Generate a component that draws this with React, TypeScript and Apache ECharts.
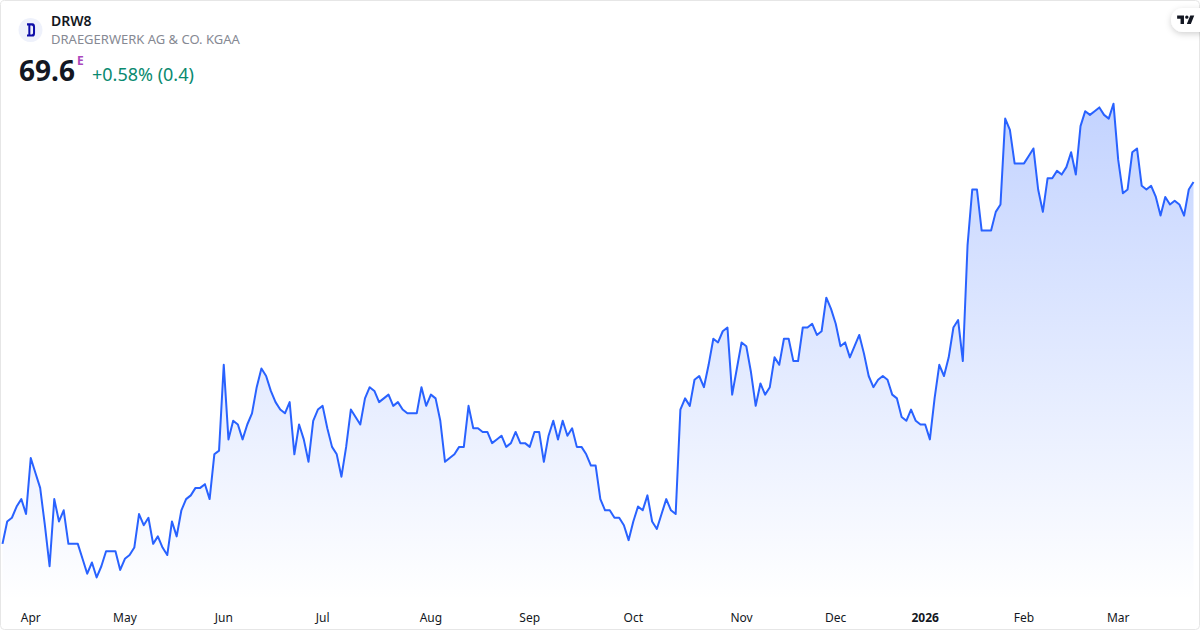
import React, { useEffect, useRef } from "react";
import * as echarts from "echarts";

const FONT = '"Noto Sans", sans-serif';

const prices: number[] = [
  50.2, 51.4, 51.6, 52.2, 52.6, 51.8, 54.8, 54.0, 53.2, 51.2, 49.0, 52.6, 51.4, 52.0, 50.2, 50.2,
  50.2, 49.4, 48.6, 49.2, 48.4, 49.0, 49.8, 49.8, 49.8, 48.8, 49.4, 49.6, 50.0, 51.8, 51.2, 51.6,
  50.2, 50.6, 50.0, 49.6, 51.4, 50.6, 52.0, 52.6, 52.8, 53.2, 53.2, 53.4, 52.6, 55.0, 55.2, 59.8,
  55.8, 56.8, 56.6, 55.8, 56.6, 57.2, 58.6, 59.6, 59.2, 58.4, 57.8, 57.4, 57.2, 57.8, 55.0, 56.6,
  55.8, 54.6, 56.8, 57.4, 57.6, 56.4, 55.4, 55.0, 53.8, 55.4, 57.4, 57.0, 56.6, 58.0, 58.6, 58.4,
  57.8, 58.0, 58.2, 57.6, 57.8, 57.4, 57.2, 57.2, 57.2, 58.6, 57.6, 58.2, 58.0, 56.8, 54.6, 54.8,
  55.0, 55.4, 55.4, 57.6, 56.4, 56.4, 56.2, 56.2, 55.6, 55.8, 56.0, 55.4, 55.6, 56.2, 55.6, 55.6,
  55.4, 56.2, 56.2, 54.6, 56.0, 56.8, 55.8, 56.8, 56.0, 56.4, 55.4, 55.4, 55.0, 54.4, 54.4, 52.6,
  52.0, 52.0, 51.6, 51.6, 51.2, 50.4, 51.4, 52.2, 52.0, 52.8, 51.4, 51.0, 51.8, 52.6, 52.0, 51.8,
  57.4, 58.0, 57.6, 59.0, 59.2, 58.6, 59.8, 61.2, 61.0, 61.6, 61.8, 58.2, 59.6, 61.0, 60.8, 59.4,
  57.6, 58.8, 58.2, 58.6, 60.2, 59.8, 61.2, 61.2, 60.0, 60.0, 61.8, 61.8, 62.0, 61.4, 61.6, 63.4,
  62.8, 62.0, 60.8, 61.0, 60.2, 60.8, 61.4, 60.4, 59.2, 58.6, 59.0, 59.2, 59.0, 58.2, 58.0, 57.0,
  56.8, 57.4, 56.8, 56.6, 56.6, 55.8, 58.0, 59.8, 59.2, 60.2, 61.8, 62.2, 60.0, 66.2, 69.2, 69.2,
  67.0, 67.0, 67.0, 68.0, 68.4, 73.0, 72.4, 70.6, 70.6, 70.6, 71.0, 71.4, 69.2, 68.0, 69.8, 69.8,
  70.2, 70.0, 70.4, 71.2, 70.0, 72.6, 73.4, 73.2, 73.4, 73.6, 73.2, 73.0, 73.8, 70.8, 69.0, 69.2,
  71.2, 71.4, 69.4, 69.2, 69.4, 68.8, 67.8, 68.8, 68.4, 68.6, 68.4, 67.8, 69.2, 69.6,
];

const monthLabels = ["Apr", "May", "Jun", "Jul", "Aug", "Sep", "Oct", "Nov", "Dec", "2026", "Feb", "Mar"];
const monthIndexes = [6, 26, 47, 68, 91, 112, 134, 157, 177, 196, 217, 237];

const categories: string[] = prices.map((_, i) => {
  const k = monthIndexes.indexOf(i);
  return k >= 0 ? monthLabels[k] : "";
});

const symbol = "DRW8";
const companyName = "DRAEGERWERK AG & CO. KGAA";
const lastPrice = "69.6";
const changeText = "+0.58% (0.4)";

const TV_PATH = "M14 6H2v6h6v9h6V6Zm12 15h-7l6-15h7l-6 15Zm-7-9a3 3 0 1 0 0-6 3 3 0 0 0 0 6Z";
const LOGO_PATH = "M0 0H8C11 0 12 2 12 5V13C12 16 11 18 8 18H0V15H2V3H0ZM5 3V15H7C8 15 9 14 9 13V5C9 4 8 3 7 3Z";

export default function App() {
  const ref = useRef<HTMLDivElement>(null);
  useEffect(() => {
    echarts.graphic.registerShape("tvMark", echarts.graphic.extendPath(TV_PATH as any, {}) as any);
    echarts.graphic.registerShape("drwMark", echarts.graphic.extendPath(LOGO_PATH as any, {}) as any);
    const chart = echarts.init(ref.current!, undefined, { renderer: "svg" });
    chart.setOption({
      animation: false,
      backgroundColor: "#ffffff",
      grid: { left: 2.5, right: 6.5, top: 0, height: 600, containLabel: false },
      xAxis: {
        type: "category",
        data: categories,
        boundaryGap: false,
        axisLine: { show: false },
        axisTick: { show: false },
        splitLine: { show: false },
        axisLabel: {
          interval: (i: number) => monthIndexes.includes(i),
          margin: 11,
          color: "#131722",
          fontFamily: FONT,
          fontSize: 12,
          hideOverlap: false,
          formatter: (v: string) => (v === "2026" ? "{b|2026}" : v),
          rich: { b: { fontWeight: 700, color: "#131722", fontFamily: FONT, fontSize: 12 } },
        },
      },
      yAxis: { type: "value", min: 47.19, max: 79.36, show: false, splitLine: { show: false } },
      series: [
        {
          type: "line",
          data: prices,
          symbol: "none",
          smooth: false,
          lineStyle: { color: "#2962ff", width: 2, join: "round" },
          areaStyle: {
            origin: "start",
            color: new echarts.graphic.LinearGradient(0, 0, 0, 1, [
              { offset: 0, color: "rgba(41,98,255,0.4)" },
              { offset: 1, color: "rgba(41,98,255,0)" },
            ]),
          },
        },
      ],
      graphic: [
        { type: "rect", silent: true, shape: { x: 0.5, y: 0.5, width: 1199, height: 629, r: 4 }, style: { fill: "none", stroke: "#e6e6e6", lineWidth: 1 } },
        { type: "circle", shape: { cx: 30.5, cy: 30, r: 12 }, style: { fill: "#eef1fb" } },
        { type: "drwMark", x: 27, y: 23.3, scaleX: 0.67, scaleY: 0.74, style: { fill: "#0d0da8" } },
        { type: "text", x: 51, y: 13.5, style: { text: symbol, fontFamily: FONT, fontSize: 14, fontWeight: 600, fill: "#131722" } },
        { type: "text", x: 51, y: 32.5, style: { text: companyName, fontFamily: FONT, fontSize: 13, fill: "#868993" } },
        { type: "text", x: 19, y: 56, style: { text: lastPrice, fontFamily: FONT, fontSize: 28, fontWeight: 700, fill: "#131722" } },
        { type: "text", x: 77, y: 54, style: { text: "E", fontFamily: FONT, fontSize: 12, fontWeight: 700, fill: "#ab47bc" } },
        { type: "text", x: 92, y: 65, style: { text: changeText, fontFamily: FONT, fontSize: 18, fill: "#0a8a70" } },
        { type: "rect", shape: { x: 1171, y: 8, width: 50, height: 24, r: 12 }, style: { fill: "#ffffff", shadowBlur: 6, shadowColor: "rgba(0,0,0,0.18)", shadowOffsetY: 2 } },
        { type: "tvMark", x: 1176, y: 12, scaleX: 0.57, scaleY: 0.57, style: { fill: "#131722" } },
      ],
    });
    return () => chart.dispose();
  }, []);
  return <div ref={ref} style={{ position: "fixed", left: 0, top: 0, width: 1200, height: 630 }} />;
}
